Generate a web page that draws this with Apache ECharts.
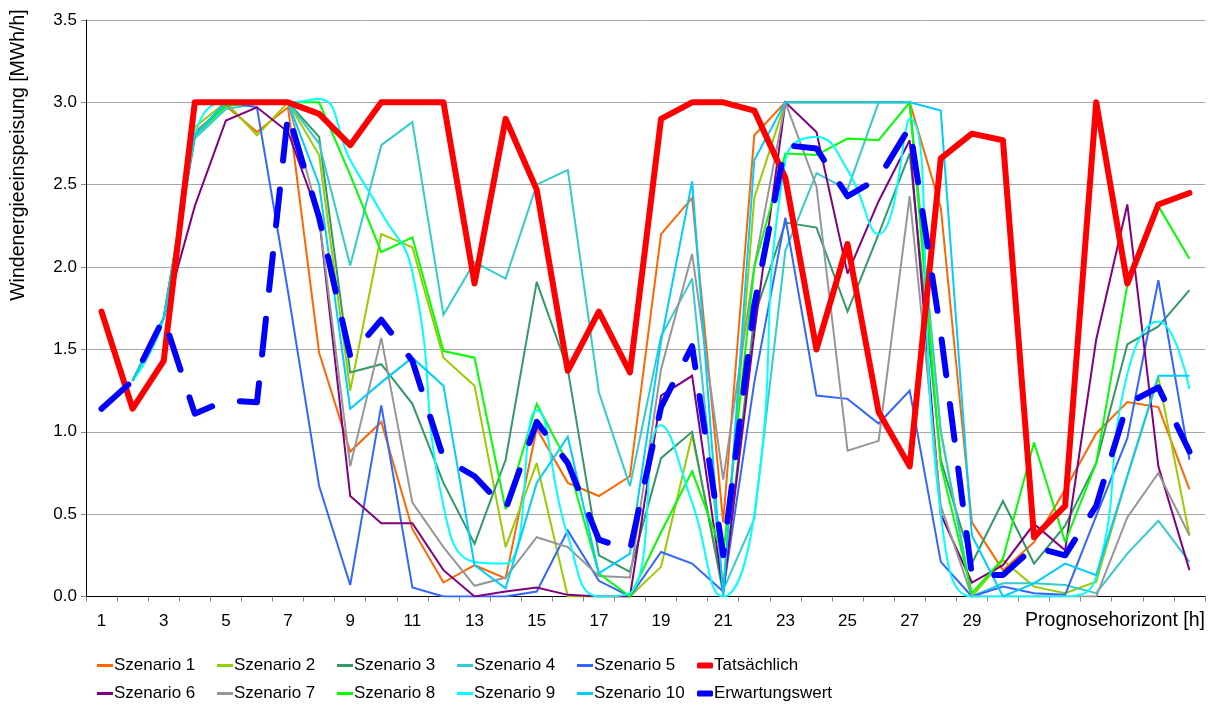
<!DOCTYPE html>
<html>
<head>
<meta charset="utf-8">
<script src="https://cdn.jsdelivr.net/npm/echarts@6/dist/echarts.min.js"></script>
<style>
  html, body { margin: 0; padding: 0; background: #fff; }
  #chart { width: 1218px; height: 709px; }
</style>
</head>
<body>
<div id="chart"></div>
<script>
// Prognosehorizont 1..36 h
const hours = Array.from({ length: 36 }, (_, i) => String(i + 1));

const yTicks = [0, 0.5, 1.0, 1.5, 2.0, 2.5, 3.0, 3.5];

const tatsaechlich = [1.73,1.14,1.43,3.0,3.0,3.0,3.0,2.93,2.74,3.0,3.0,3.0,1.90,2.90,2.47,1.37,1.73,1.36,2.90,3.0,3.0,2.95,2.54,1.50,2.14,1.12,0.79,2.66,2.81,2.77,0.36,0.55,3.0,1.90,2.38,2.45];
const erwartungswert = [1.14,1.31,1.69,1.11,1.19,1.18,2.93,2.30,1.46,1.68,1.43,0.84,0.73,0.53,1.06,0.81,0.345,0.28,1.15,1.52,0.25,1.77,2.74,2.72,2.43,2.54,2.85,1.60,0.13,0.13,0.30,0.25,0.55,1.17,1.27,0.88];

const szenario1 = [null,1.31,1.69,2.82,2.98,2.82,2.97,1.48,0.88,1.06,0.41,0.085,0.19,0.11,1.02,0.69,0.61,0.73,2.20,2.42,0.45,2.80,3.0,3.0,3.0,3.0,3.0,2.36,0.45,0.16,0.33,0.65,0.99,1.18,1.15,0.65];
const szenario2 = [null,1.31,1.69,2.85,3.0,2.80,3.0,2.68,1.25,2.20,2.12,1.45,1.28,0.30,0.81,0.0,0.0,0.0,0.18,0.98,0.05,2.42,3.0,3.0,3.0,3.0,3.0,1.0,0.0,0.22,0.06,0.02,0.09,0.73,1.33,0.37];
const szenario3 = [null,1.31,1.69,2.80,2.98,3.0,3.0,2.79,1.36,1.41,1.17,0.69,0.32,0.83,1.91,1.38,0.25,0.15,0.84,1.0,0.02,1.7,2.27,2.24,1.73,2.2,2.69,0.83,0.20,0.58,0.20,0.43,0.81,1.53,1.64,1.86];
const szenario4 = [null,1.31,1.69,2.78,2.96,2.99,3.0,2.75,2.01,2.74,2.88,1.71,2.03,1.93,2.50,2.59,1.24,0.67,1.58,1.93,0.04,0.47,2.1,2.57,2.47,3.0,3.0,1.0,0.0,0.08,0.08,0.07,0.02,0.26,0.46,0.21];
const szenario5 = [null,1.31,1.69,2.80,3.0,2.97,1.85,0.67,0.07,1.16,0.055,0.0,0.0,0.0,0.03,0.40,0.095,0.0,0.27,0.20,0.03,1.3,2.30,1.22,1.20,1.05,1.25,0.21,0.0,0.06,0.02,0.01,0.49,0.96,1.92,0.83];
const szenario6 = [null,1.31,1.69,2.37,2.89,2.97,2.82,2.3,0.61,0.445,0.445,0.16,0.0,0.03,0.055,0.01,0.0,0.0,1.22,1.34,0.03,1.6,3.0,2.82,1.96,2.4,2.77,0.5,0.085,0.19,0.44,0.28,1.56,2.38,0.79,0.16];
const szenario7 = [null,1.31,1.69,2.80,2.98,3.0,3.0,2.3,0.79,1.57,0.57,0.3,0.065,0.115,0.36,0.30,0.125,0.115,1.38,2.08,0.71,2.0,3.0,2.49,0.885,0.945,2.43,0.55,0.0,0.0,0.0,0.0,0.0,0.48,0.75,0.37];
const szenario8 = [null,1.31,1.69,2.80,2.98,3.0,3.0,3.0,2.56,2.09,2.18,1.49,1.45,0.53,1.17,0.81,0.14,0.0,0.39,0.76,0.25,2.0,2.69,2.68,2.78,2.77,3.0,0.8,0.02,0.23,0.935,0.33,0.81,1.89,2.37,2.05];
const szenario9 = [null,1.31,1.69,2.80,3.0,3.0,3.0,3.02,2.65,2.33,1.97,0.55,0.21,0.20,1.13,0.37,0.0,0.02,1.04,0.57,0.0,0.5,2.65,2.79,2.59,2.2,2.9,0.5,0.0,0.0,0.0,0.0,0.12,1.35,1.67,1.26];
const szenario10 = [null,1.31,1.69,2.80,3.0,3.0,3.0,2.5,1.14,1.30,1.45,1.28,0.19,0.05,0.69,0.97,0.14,0.26,1.55,2.52,0.0,2.65,3.0,3.0,3.0,3.0,3.0,2.95,0.37,0.0,0.08,0.2,0.13,0.73,1.34,1.34];

const FONT = 'Liberation Sans, Arial, sans-serif';
const FS = 17;        // tick labels and legend
const FS_TITLE = 19.5; // axis titles

// name, values, colour, legend slot [col, row]
const seriesDefs = [
  { name: 'Szenario 1', data: szenario1, color: '#FF6600', slot: [0, 0] },
  { name: 'Szenario 2', data: szenario2, color: '#99CC00', slot: [1, 0] },
  { name: 'Szenario 3', data: szenario3, color: '#339966', slot: [2, 0] },
  { name: 'Szenario 4', data: szenario4, color: '#33CCCC', slot: [3, 0] },
  { name: 'Szenario 5', data: szenario5, color: '#3366FF', slot: [4, 0] },
  { name: 'Tatsächlich', data: tatsaechlich, color: '#FF0000', slot: [5, 0], thick: true },
  { name: 'Szenario 6', data: szenario6, color: '#800080', slot: [0, 1] },
  { name: 'Szenario 7', data: szenario7, color: '#969696', slot: [1, 1] },
  { name: 'Szenario 8', data: szenario8, color: '#00FF00', slot: [2, 1] },
  { name: 'Szenario 9', data: szenario9, color: '#00FFFF', slot: [3, 1], smooth: true },
  { name: 'Szenario 10', data: szenario10, color: '#00CCFF', slot: [4, 1] },
  { name: 'Erwartungswert', data: erwartungswert, color: '#0000FF', slot: [5, 1], thick: true, dashed: true }
];

const series = seriesDefs.map(d => ({
  name: d.name,
  type: 'line',
  data: d.data,
  symbol: 'none',
  smooth: d.smooth ? 0.5 : false,
  connectNulls: false,
  animation: false,
  z: d.thick ? 3 : 2,
  color: d.color,
  lineStyle: d.thick
    ? (d.dashed
        ? { color: d.color, width: 6, type: [36, 29], cap: 'round', join: 'round' }
        : { color: d.color, width: 6, join: 'round', cap: 'round' })
    : { color: d.color, width: 2, join: 'miter', miterLimit: 3 }
}));

// one small legend per entry, laid out as a 6 x 2 table below the plot
const legends = seriesDefs.map(d => ({
  data: [d.name],
  left: 97 + d.slot[0] * 120,
  top: 657 + d.slot[1] * 28,
  icon: d.thick ? 'roundRect' : 'rect',
  itemWidth: 16,
  itemHeight: d.thick ? 6 : 3,
  itemGap: 0,
  padding: 0,
  selectedMode: false,
  textStyle: { fontFamily: FONT, fontSize: FS, color: '#000', padding: [0, 0, 0, -4] }
}));

const chart = echarts.init(document.getElementById('chart'), null, { renderer: 'canvas' });
chart.setOption({
  animation: false,
  backgroundColor: '#fff',
  grid: { left: 86, right: 13, top: 20, bottom: 112.5, containLabel: false },
  legend: legends,
  xAxis: {
    type: 'category',
    data: hours,
    boundaryGap: true,
    name: 'Prognosehorizont [h]',
    nameLocation: 'end',
    nameGap: 0,
    nameTextStyle: { fontFamily: FONT, fontSize: FS_TITLE, color: '#000', align: 'right', verticalAlign: 'top', padding: [14, 0, 0, 0] },
    axisLine: { lineStyle: { color: '#000', width: 1 } },
    axisTick: { show: true, interval: 0, length: 5, lineStyle: { color: '#888' } },
    axisLabel: {
      interval: 1,
      margin: 16,
      fontFamily: FONT, fontSize: FS, color: '#000',
      formatter: v => (Number(v) <= 29 ? v : '')
    },
    splitLine: { show: false }
  },
  yAxis: {
    type: 'value',
    min: yTicks[0],
    max: yTicks[yTicks.length - 1],
    interval: 0.5,
    axisLine: { show: true, lineStyle: { color: '#000', width: 1 } },
    axisTick: { show: true, length: 5, lineStyle: { color: '#888' } },
    axisLabel: { margin: 9, fontFamily: FONT, fontSize: FS, color: '#000', formatter: v => v.toFixed(1) },
    splitLine: { show: true, lineStyle: { color: '#a6a6a6', width: 1 } }
  },
  graphic: [{
    type: 'text',
    x: 19, y: 155,
    rotation: Math.PI / 2,
    style: {
      text: 'Windenergieeinspeisung [MWh/h]',
      font: FS_TITLE + 'px ' + FONT,
      fill: '#000',
      textAlign: 'center',
      textVerticalAlign: 'middle'
    }
  }],
  series: series
});
</script>
</body>
</html>
